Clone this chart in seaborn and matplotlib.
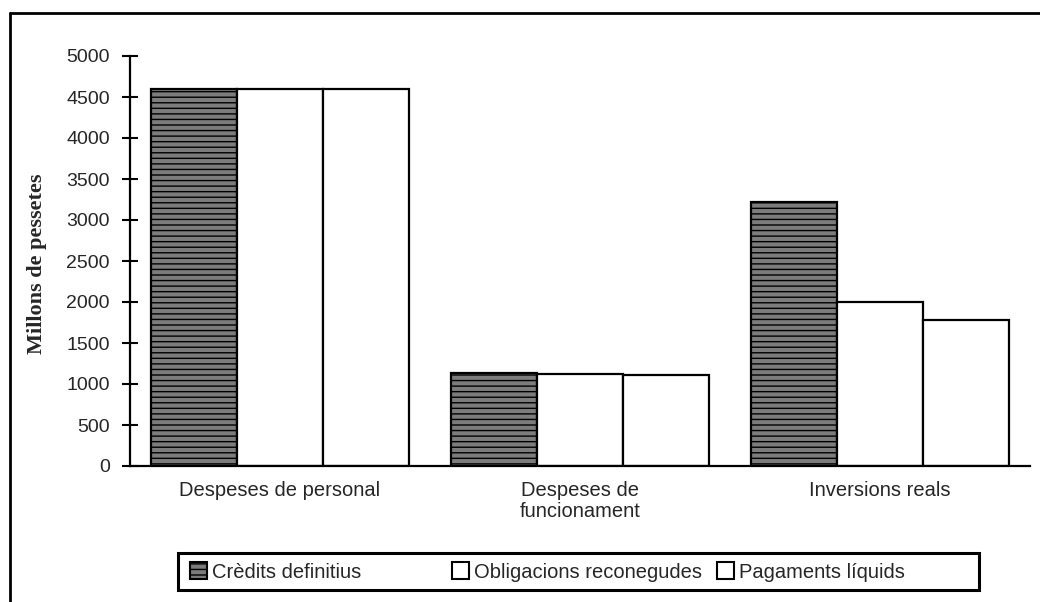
import matplotlib
matplotlib.use("Agg")
import matplotlib.pyplot as plt
import seaborn as sns
import pandas as pd
from matplotlib.patches import Patch, Rectangle
from matplotlib.ticker import FixedLocator

categories = ["Despeses de personal", "Despeses de\nfuncionament", "Inversions reals"]
series = ["Crèdits definitius", "Obligacions reconegudes", "Pagaments líquids"]
credits = [4600, 1140, 3215]
obligacions = [4595, 1125, 1995]
pagaments = [4595, 1110, 1775]
yticks = [0, 500, 1000, 1500, 2000, 2500, 3000, 3500, 4000, 4500, 5000]

rows = []
for s, vals in zip(series, [credits, obligacions, pagaments]):
    for c, v in zip(categories, vals):
        rows.append({"cat": c, "serie": s, "val": v})
df = pd.DataFrame(rows)

sns.set_theme(style="white")
plt.rcParams["font.family"] = ["Liberation Sans", "DejaVu Sans"]
plt.rcParams["hatch.color"] = "#2e2e2e"
plt.rcParams["hatch.linewidth"] = 1.0

W, H = 1040, 602
fig = plt.figure(figsize=(10.4, 6.02), dpi=100)
ax = fig.add_axes([130 / W, 1 - 466 / H, 900 / W, 410 / H])

colors = ["#7c7c7c", "white", "white"]
sns.barplot(data=df, x="cat", y="val", hue="serie", order=categories, hue_order=series,
            palette=colors, width=0.86, gap=0, edgecolor="black", linewidth=1.6,
            saturation=1, ax=ax, legend=False)

for bar in ax.containers[0]:
    bar.set_hatch("---")

ax.set_ylim(0, 5000)
ax.set_xlim(-0.5, 2.5)
ax.set_yticks(yticks)
ax.set_yticklabels([str(t) for t in yticks], fontsize=14)
ax.set_ylabel("")
ax.set_xlabel("")
ax.set_xticks(range(3))
ax.set_xticklabels(categories, fontsize=14.5, linespacing=1.1)
ax.tick_params(axis="x", which="major", length=0, pad=11)
ax.xaxis.set_minor_locator(FixedLocator([0.5, 1.5, 2.5]))
ax.tick_params(axis="x", which="minor", length=10, width=1.5, direction="inout", color="black")
ax.tick_params(axis="y", length=11, width=1.5, direction="inout", color="black", left=True, pad=9)

for side in ["top", "right"]:
    ax.spines[side].set_visible(False)
for side in ["left", "bottom"]:
    ax.spines[side].set_color("black")
    ax.spines[side].set_linewidth(1.6)
ax.grid(False)

fig.text(37 / W, 1 - 264 / H, "Millons de pessetes", rotation=90, ha="center", va="center",
         family=["Liberation Serif", "DejaVu Serif"], fontsize=16, fontweight="bold")

# legend: frame plus three entries at their own positions
fig.add_artist(Rectangle((178 / W, 1 - 590 / H), 801 / W, 37 / H, transform=fig.transFigure,
                         facecolor="white", edgecolor="black", linewidth=2.2))
entry_x = [190, 452, 717]
for i in range(3):
    h = Patch(facecolor=colors[i], edgecolor="black", linewidth=1.5,
              hatch=("---" if i == 0 else None))
    lg = fig.legend([h], [series[i]], loc="center left",
                    bbox_to_anchor=(entry_x[i] / W, 1 - 572 / H), frameon=False,
                    fontsize=14.5, handlelength=0.85, handleheight=0.85, handletextpad=0.25,
                    borderpad=0, borderaxespad=0)

# outer chart frame
fig.add_artist(plt.Line2D([10 / W, 10 / W], [0, 1 - 13 / H], color="black", lw=2,
                          transform=fig.transFigure))
fig.add_artist(plt.Line2D([10 / W, 1.0], [1 - 13 / H, 1 - 13 / H], color="black", lw=2,
                          transform=fig.transFigure))

fig.savefig("out.png", dpi=100, facecolor="white")
